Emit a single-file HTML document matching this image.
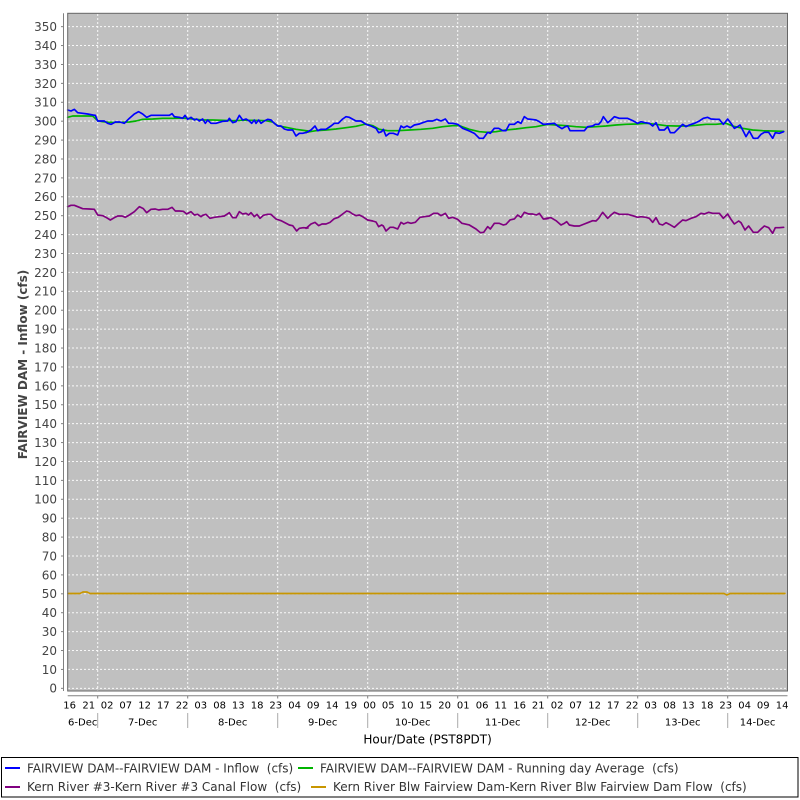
<!DOCTYPE html>
<html>
<head>
<meta charset="utf-8">
<style>
html,body{margin:0;padding:0;background:#fff;}
svg{display:block;}
text{font-family:"DejaVu Sans","Liberation Sans",sans-serif;}
</style>
</head>
<body>
<svg width="800" height="800" viewBox="0 0 800 800" xmlns="http://www.w3.org/2000/svg">
<rect x="0" y="0" width="800" height="800" fill="#ffffff"/>
<rect x="67.7" y="13.3" width="719.8" height="677.7" fill="#c0c0c0"/>
<g stroke="#ffffff" stroke-width="1" stroke-dasharray="2,2" opacity="0.9">
<line x1="68" x2="787" y1="688.33" y2="688.33"/>
<line x1="68" x2="787" y1="669.43" y2="669.43"/>
<line x1="68" x2="787" y1="650.52" y2="650.52"/>
<line x1="68" x2="787" y1="631.62" y2="631.62"/>
<line x1="68" x2="787" y1="612.71" y2="612.71"/>
<line x1="68" x2="787" y1="593.81" y2="593.81"/>
<line x1="68" x2="787" y1="574.90" y2="574.90"/>
<line x1="68" x2="787" y1="556.00" y2="556.00"/>
<line x1="68" x2="787" y1="537.09" y2="537.09"/>
<line x1="68" x2="787" y1="518.19" y2="518.19"/>
<line x1="68" x2="787" y1="499.28" y2="499.28"/>
<line x1="68" x2="787" y1="480.38" y2="480.38"/>
<line x1="68" x2="787" y1="461.47" y2="461.47"/>
<line x1="68" x2="787" y1="442.57" y2="442.57"/>
<line x1="68" x2="787" y1="423.66" y2="423.66"/>
<line x1="68" x2="787" y1="404.76" y2="404.76"/>
<line x1="68" x2="787" y1="385.85" y2="385.85"/>
<line x1="68" x2="787" y1="366.95" y2="366.95"/>
<line x1="68" x2="787" y1="348.04" y2="348.04"/>
<line x1="68" x2="787" y1="329.14" y2="329.14"/>
<line x1="68" x2="787" y1="310.23" y2="310.23"/>
<line x1="68" x2="787" y1="291.33" y2="291.33"/>
<line x1="68" x2="787" y1="272.42" y2="272.42"/>
<line x1="68" x2="787" y1="253.52" y2="253.52"/>
<line x1="68" x2="787" y1="234.61" y2="234.61"/>
<line x1="68" x2="787" y1="215.71" y2="215.71"/>
<line x1="68" x2="787" y1="196.80" y2="196.80"/>
<line x1="68" x2="787" y1="177.90" y2="177.90"/>
<line x1="68" x2="787" y1="158.99" y2="158.99"/>
<line x1="68" x2="787" y1="140.09" y2="140.09"/>
<line x1="68" x2="787" y1="121.18" y2="121.18"/>
<line x1="68" x2="787" y1="102.28" y2="102.28"/>
<line x1="68" x2="787" y1="83.37" y2="83.37"/>
<line x1="68" x2="787" y1="64.47" y2="64.47"/>
<line x1="68" x2="787" y1="45.56" y2="45.56"/>
<line x1="68" x2="787" y1="26.66" y2="26.66"/>
</g>
<g stroke="#ffffff" stroke-width="1" stroke-dasharray="2,2" opacity="0.9">
<line x1="97.7" x2="97.7" y1="14" y2="691"/>
<line x1="187.7" x2="187.7" y1="14" y2="691"/>
<line x1="277.7" x2="277.7" y1="14" y2="691"/>
<line x1="367.7" x2="367.7" y1="14" y2="691"/>
<line x1="457.7" x2="457.7" y1="14" y2="691"/>
<line x1="547.7" x2="547.7" y1="14" y2="691"/>
<line x1="637.7" x2="637.7" y1="14" y2="691"/>
<line x1="727.7" x2="727.7" y1="14" y2="691"/>
</g>

<g fill="none" stroke-linejoin="round" stroke-linecap="round">
<g transform="translate(66,100) scale(0.33333)">
<polyline stroke="#00b400" stroke-width="5" points="5,52 20,48 40,48 60,48 80,48 95,62 110,65 130,67 160,67 190,66 210,63 230,58 260,57 290,55 320,55 350,54 380,57 410,60 440,60 470,61 500,62 530,61 560,61 600,62 620,66 635,77 660,82 690,88 726,93"/>
<polyline stroke="#0000ff" stroke-width="5" points="5,30 15,33 25,28 35,38 50,40 65,42 80,45 88,46 95,63 115,63 125,70 135,73 148,66 162,66 175,70 190,55 205,42 218,35 230,42 242,52 255,46 270,46 285,46 300,46 310,46 318,41 325,50 340,52 350,55 357,46 365,58 375,52 385,60 392,57 400,63 410,57 418,70 425,60 435,70 450,70 460,67 470,64 485,63 490,55 500,68 510,65 520,46 530,60 540,57 550,63 557,70 565,60 570,70 578,60 585,70 595,63 605,58 615,60 625,70 635,78 645,78 655,87 665,90 680,90 690,108 700,100 710,100 726,96"/>
<polyline stroke="#800080" stroke-width="5" points="5,320 15,316 25,316 40,322 50,326 70,327 85,328 95,345 110,347 120,352 133,360 145,353 155,348 168,348 178,352 190,345 205,335 220,320 232,326 242,338 255,328 268,327 278,330 290,328 305,328 318,322 328,333 340,333 352,334 362,342 375,335 385,345 395,343 405,350 410,346 420,343 432,355 445,352 460,350 475,348 490,338 500,353 510,353 520,335 530,342 540,340 548,345 555,338 565,350 573,343 582,355 592,346 605,343 615,343 630,357 645,362 655,367 670,375 680,377 692,393 700,385 712,383 726,384"/>
</g>
<g transform="translate(306,100) scale(0.33333)">
<polyline stroke="#00b400" stroke-width="5" points="0,97 30,92 60,90 90,87 120,83 150,79 180,72 200,77 220,88 245,92 275,92 310,90 345,88 380,85 410,80 440,77 460,77 490,88 520,95 545,97 570,95 600,90 630,87 660,83 690,80 726,73"/>
<polyline stroke="#0000ff" stroke-width="5" points="0,98 15,90 27,78 35,92 45,88 60,88 75,78 85,70 97,70 110,57 120,50 130,52 150,63 165,63 180,73 195,78 210,85 218,98 227,95 232,88 240,108 250,100 262,100 275,105 285,78 293,83 303,78 313,83 325,75 340,72 350,68 365,63 380,63 392,58 405,63 418,57 428,70 440,70 455,73 470,85 490,93 505,100 520,115 532,115 545,97 553,100 565,85 578,85 590,92 600,92 610,73 625,73 635,65 645,70 655,50 665,57 675,58 690,60 700,65 712,73 726,72"/>
<polyline stroke="#800080" stroke-width="5" points="0,385 15,372 27,367 38,377 48,372 60,372 72,367 85,356 97,352 110,342 122,333 130,335 140,342 150,347 160,345 170,350 185,360 200,363 210,366 218,380 227,375 232,378 240,393 252,382 262,382 275,387 285,367 293,372 305,367 315,370 328,367 342,352 355,350 370,348 383,340 395,340 405,347 418,340 428,355 440,352 455,358 468,370 490,375 510,387 523,398 533,397 545,380 553,387 565,370 580,370 592,375 600,373 612,360 625,357 635,345 645,352 655,337 668,342 680,342 692,345 700,340 712,357 726,356"/>
</g>
<g transform="translate(546,100) scale(0.33333)">
<polyline stroke="#00b400" stroke-width="5" points="0,73 30,75 60,77 90,80 120,82 150,80 180,78 210,75 240,73 270,72 300,70 330,73 360,77 390,78 420,78 450,76 480,73 510,73 540,70 560,78 590,85 620,90 650,92 680,93 713,94"/>
<polyline stroke="#0000ff" stroke-width="5" points="0,73 15,71 25,70 35,78 48,86 58,80 65,78 72,92 85,92 100,92 115,92 125,80 140,78 148,73 158,73 165,65 172,50 185,68 195,60 205,50 220,55 245,55 260,62 275,70 285,65 298,68 310,70 320,78 330,68 340,90 355,90 365,80 373,98 385,98 398,85 410,73 420,80 430,75 445,70 460,63 472,55 485,52 495,57 510,58 520,58 532,73 545,57 555,70 565,85 575,80 582,75 590,90 600,110 610,93 622,115 635,115 645,103 655,97 668,97 680,115 688,98 700,100 713,95"/>
<polyline stroke="#800080" stroke-width="5" points="0,355 15,353 30,362 45,375 55,370 62,365 70,375 85,378 100,378 115,372 125,368 140,362 150,363 158,355 170,337 185,355 195,345 205,337 220,343 245,343 260,347 275,352 285,350 300,352 310,355 320,367 330,353 340,372 350,375 360,368 370,373 385,382 398,370 410,360 420,362 435,355 450,350 465,340 475,342 488,337 500,340 520,340 532,355 545,342 555,358 565,372 578,363 585,368 597,390 608,378 622,397 635,397 645,387 655,378 668,383 680,400 688,383 700,383 713,382"/>
</g>
<polyline stroke="#c89600" stroke-width="1.7" points="68,593.5 80,593.5 83,592 87,592 90,593.5 724,593.5 727,595 730,593.5 785,593.5"/>
</g>

<rect x="67.7" y="13.3" width="719.8" height="677.7" fill="none" stroke="#666666" stroke-width="1"/>

<line x1="63.5" y1="13.3" x2="63.5" y2="691" stroke="#808080" stroke-width="1"/>
<g stroke="#808080" stroke-width="1">
<line x1="61" x2="63.5" y1="688.33" y2="688.33"/><line x1="61" x2="63.5" y1="669.43" y2="669.43"/><line x1="61" x2="63.5" y1="650.52" y2="650.52"/><line x1="61" x2="63.5" y1="631.62" y2="631.62"/><line x1="61" x2="63.5" y1="612.71" y2="612.71"/><line x1="61" x2="63.5" y1="593.81" y2="593.81"/><line x1="61" x2="63.5" y1="574.90" y2="574.90"/><line x1="61" x2="63.5" y1="556.00" y2="556.00"/><line x1="61" x2="63.5" y1="537.09" y2="537.09"/><line x1="61" x2="63.5" y1="518.19" y2="518.19"/><line x1="61" x2="63.5" y1="499.28" y2="499.28"/><line x1="61" x2="63.5" y1="480.38" y2="480.38"/><line x1="61" x2="63.5" y1="461.47" y2="461.47"/><line x1="61" x2="63.5" y1="442.57" y2="442.57"/><line x1="61" x2="63.5" y1="423.66" y2="423.66"/><line x1="61" x2="63.5" y1="404.76" y2="404.76"/><line x1="61" x2="63.5" y1="385.85" y2="385.85"/><line x1="61" x2="63.5" y1="366.95" y2="366.95"/><line x1="61" x2="63.5" y1="348.04" y2="348.04"/><line x1="61" x2="63.5" y1="329.14" y2="329.14"/><line x1="61" x2="63.5" y1="310.23" y2="310.23"/><line x1="61" x2="63.5" y1="291.33" y2="291.33"/><line x1="61" x2="63.5" y1="272.42" y2="272.42"/><line x1="61" x2="63.5" y1="253.52" y2="253.52"/><line x1="61" x2="63.5" y1="234.61" y2="234.61"/><line x1="61" x2="63.5" y1="215.71" y2="215.71"/><line x1="61" x2="63.5" y1="196.80" y2="196.80"/><line x1="61" x2="63.5" y1="177.90" y2="177.90"/><line x1="61" x2="63.5" y1="158.99" y2="158.99"/><line x1="61" x2="63.5" y1="140.09" y2="140.09"/><line x1="61" x2="63.5" y1="121.18" y2="121.18"/><line x1="61" x2="63.5" y1="102.28" y2="102.28"/><line x1="61" x2="63.5" y1="83.37" y2="83.37"/><line x1="61" x2="63.5" y1="64.47" y2="64.47"/><line x1="61" x2="63.5" y1="45.56" y2="45.56"/><line x1="61" x2="63.5" y1="26.66" y2="26.66"/>
</g>
<g font-size="12" fill="#444444" text-anchor="end">
<text x="57" y="692.7">0</text>
<text x="57" y="673.8">10</text>
<text x="57" y="654.9">20</text>
<text x="57" y="636.0">30</text>
<text x="57" y="617.1">40</text>
<text x="57" y="598.2">50</text>
<text x="57" y="579.3">60</text>
<text x="57" y="560.4">70</text>
<text x="57" y="541.5">80</text>
<text x="57" y="522.6">90</text>
<text x="57" y="503.7">100</text>
<text x="57" y="484.8">110</text>
<text x="57" y="465.9">120</text>
<text x="57" y="447.0">130</text>
<text x="57" y="428.1">140</text>
<text x="57" y="409.2">150</text>
<text x="57" y="390.3">160</text>
<text x="57" y="371.4">170</text>
<text x="57" y="352.4">180</text>
<text x="57" y="333.5">190</text>
<text x="57" y="314.6">200</text>
<text x="57" y="295.7">210</text>
<text x="57" y="276.8">220</text>
<text x="57" y="257.9">230</text>
<text x="57" y="239.0">240</text>
<text x="57" y="220.1">250</text>
<text x="57" y="201.2">260</text>
<text x="57" y="182.3">270</text>
<text x="57" y="163.4">280</text>
<text x="57" y="144.5">290</text>
<text x="57" y="125.6">300</text>
<text x="57" y="106.7">310</text>
<text x="57" y="87.8">320</text>
<text x="57" y="68.9">330</text>
<text x="57" y="50.0">340</text>
<text x="57" y="31.1">350</text>
</g>
<text transform="translate(26.8,364.5) rotate(-90)" font-size="12" font-weight="bold" fill="#444444" text-anchor="middle">FAIRVIEW DAM - Inflow (cfs)</text>

<line x1="67.7" y1="695.7" x2="787.5" y2="695.7" stroke="#808080" stroke-width="1"/>
<g stroke="#808080" stroke-width="1">
<line x1="97.7" x2="97.7" y1="695.7" y2="698.5"/>
<line x1="187.7" x2="187.7" y1="695.7" y2="698.5"/>
<line x1="277.7" x2="277.7" y1="695.7" y2="698.5"/>
<line x1="367.7" x2="367.7" y1="695.7" y2="698.5"/>
<line x1="457.7" x2="457.7" y1="695.7" y2="698.5"/>
<line x1="547.7" x2="547.7" y1="695.7" y2="698.5"/>
<line x1="637.7" x2="637.7" y1="695.7" y2="698.5"/>
<line x1="727.7" x2="727.7" y1="695.7" y2="698.5"/>
</g>
<g font-size="10" fill="#000000" text-anchor="middle">
<text x="69.6" y="708.5">16</text>
<text x="88.8" y="708.5">21</text>
<text x="107.1" y="708.5">02</text>
<text x="125.8" y="708.5">07</text>
<text x="144.6" y="708.5">12</text>
<text x="163.3" y="708.5">17</text>
<text x="182.1" y="708.5">22</text>
<text x="200.8" y="708.5">03</text>
<text x="219.6" y="708.5">08</text>
<text x="238.3" y="708.5">13</text>
<text x="257.1" y="708.5">18</text>
<text x="275.8" y="708.5">23</text>
<text x="294.6" y="708.5">04</text>
<text x="313.3" y="708.5">09</text>
<text x="332.1" y="708.5">14</text>
<text x="350.8" y="708.5">19</text>
<text x="369.6" y="708.5">00</text>
<text x="388.3" y="708.5">05</text>
<text x="407.1" y="708.5">10</text>
<text x="425.8" y="708.5">15</text>
<text x="444.6" y="708.5">20</text>
<text x="463.3" y="708.5">01</text>
<text x="482.1" y="708.5">06</text>
<text x="500.8" y="708.5">11</text>
<text x="519.6" y="708.5">16</text>
<text x="538.3" y="708.5">21</text>
<text x="557.1" y="708.5">02</text>
<text x="575.8" y="708.5">07</text>
<text x="594.6" y="708.5">12</text>
<text x="613.3" y="708.5">17</text>
<text x="632.1" y="708.5">22</text>
<text x="650.8" y="708.5">03</text>
<text x="669.6" y="708.5">08</text>
<text x="688.3" y="708.5">13</text>
<text x="707.1" y="708.5">18</text>
<text x="725.8" y="708.5">23</text>
<text x="744.6" y="708.5">04</text>
<text x="763.3" y="708.5">09</text>
<text x="782.1" y="708.5">14</text>
</g>
<g stroke="#aaaaaa" stroke-width="1">
<line x1="97.7" x2="97.7" y1="713" y2="728"/>
<line x1="187.7" x2="187.7" y1="713" y2="728"/>
<line x1="277.7" x2="277.7" y1="713" y2="728"/>
<line x1="367.7" x2="367.7" y1="713" y2="728"/>
<line x1="457.7" x2="457.7" y1="713" y2="728"/>
<line x1="547.7" x2="547.7" y1="713" y2="728"/>
<line x1="637.7" x2="637.7" y1="713" y2="728"/>
<line x1="727.7" x2="727.7" y1="713" y2="728"/>
</g>
<g font-size="10" fill="#000000" text-anchor="middle">
<text x="82.7" y="725.7">6-Dec</text>
<text x="142.7" y="725.7">7-Dec</text>
<text x="232.7" y="725.7">8-Dec</text>
<text x="322.7" y="725.7">9-Dec</text>
<text x="412.7" y="725.7">10-Dec</text>
<text x="502.7" y="725.7">11-Dec</text>
<text x="592.7" y="725.7">12-Dec</text>
<text x="682.7" y="725.7">13-Dec</text>
<text x="757.6" y="725.7">14-Dec</text>
</g>
<text x="427.6" y="743.5" font-size="12" fill="#000000" text-anchor="middle">Hour/Date (PST8PDT)</text>

<rect x="1.5" y="757.5" width="796.5" height="39.5" fill="#ffffff" stroke="#000000" stroke-width="1"/>
<g stroke-width="2">
<line x1="5" x2="20" y1="768" y2="768" stroke="#0000ff"/>
<line x1="298" x2="313" y1="768" y2="768" stroke="#00b400"/>
<line x1="5" x2="20" y1="787" y2="787" stroke="#800080"/>
<line x1="311" x2="326" y1="787" y2="787" stroke="#c89600"/>
</g>
<g font-size="12" fill="#333333">
<text x="27" y="772.3" xml:space="preserve">FAIRVIEW DAM--FAIRVIEW DAM - Inflow  (cfs)</text>
<text x="320" y="772.3" xml:space="preserve">FAIRVIEW DAM--FAIRVIEW DAM - Running day Average  (cfs)</text>
<text x="27" y="791" xml:space="preserve">Kern River #3-Kern River #3 Canal Flow  (cfs)</text>
<text x="333" y="791" xml:space="preserve">Kern River Blw Fairview Dam-Kern River Blw Fairview Dam Flow  (cfs)</text>
</g>
</svg>
</body>
</html>
